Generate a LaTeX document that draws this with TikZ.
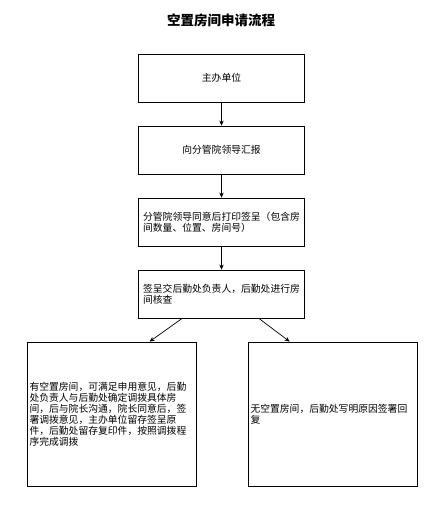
\documentclass[tikz,border=0pt]{standalone}
\usepackage{fontspec}
\setmainfont{Noto Sans CJK SC}
\usetikzlibrary{arrows.meta}
\tikzset{
  box/.style={draw, line width=0.8pt, fill=white, inner sep=2pt, font=\fontsize{9.8}{11}\selectfont},
  arr/.style={-{Stealth[length=5pt,width=4.5pt]}, line width=0.7pt},
  ttl/.style={font=\fontsize{13.5}{15}\selectfont\bfseries}
}
\begin{document}
\begin{tikzpicture}[x=1pt,y=-1pt]
\useasboundingbox[fill=white] (0,0) rectangle (441,506);
\node[ttl] (t) at (221,20) {空置房间申请流程};
\node[box, minimum width=166pt, minimum height=48pt] (b1) at (221.5,78) {主办单位};
\node[box, minimum width=166pt, minimum height=48pt] (b2) at (221.5,150) {向分管院领导汇报};
\node[box, minimum width=166pt, minimum height=48pt, align=left] (b3) at (221.5,222) {分管院领导同意后打印签呈（包含房\\间数量、位置、房间号）};
\node[box, minimum width=166pt, minimum height=48pt, align=left] (b4) at (221.5,294) {签呈交后勤处负责人，后勤处进行房\\间核查};
\node[box, minimum width=169pt, minimum height=144pt, text width=164pt, align=left] (L) at (111.5,414) {有空置房间，可满足申用意见，后勤\\处负责人与后勤处确定调拨具体房\\间，后与院长沟通，院长同意后，签\\署调拨意见，主办单位留存签呈原\\件，后勤处留存复印件，按照调拨程\\序完成调拨};
\node[box, minimum width=169pt, minimum height=144pt, text width=164pt, align=left] (R) at (332.5,414) {无空置房间，后勤处写明原因签署回\\复};
\draw[arr] (b1) -- (b2);
\draw[arr] (b2) -- (b3);
\draw[arr] (b3) -- (b4);
\draw[arr] ([xshift=44pt]b4.south west) -- ([xshift=123pt]L.north west);
\draw[arr] ([xshift=-46pt]b4.south east) -- ([xshift=42pt]R.north west);
\end{tikzpicture}
\end{document}
